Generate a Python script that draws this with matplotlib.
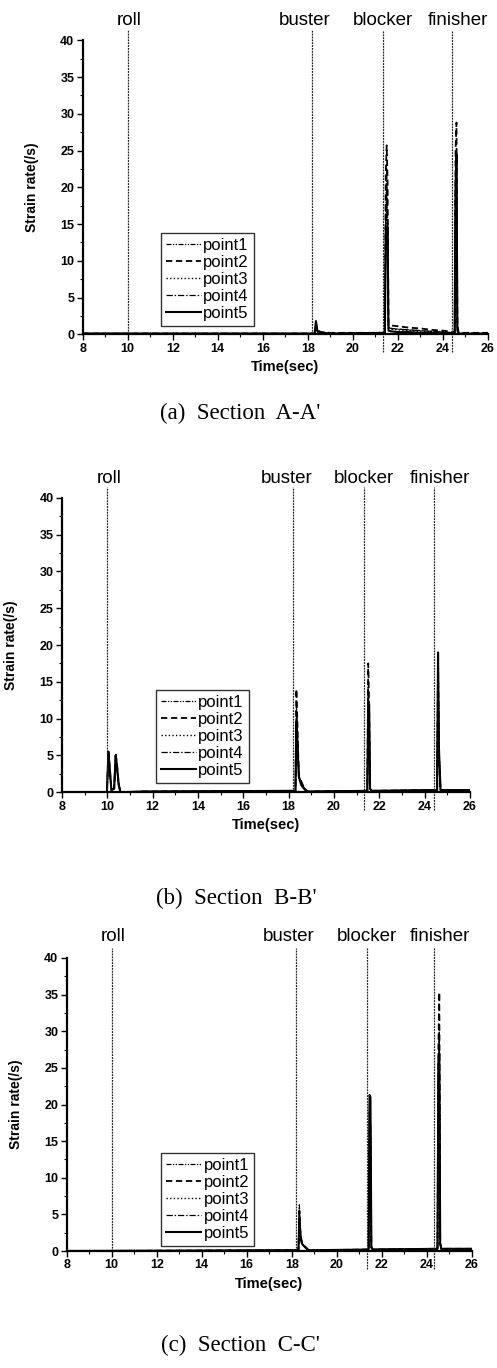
import matplotlib
matplotlib.use("Agg")
import matplotlib.pyplot as plt
from matplotlib.ticker import MultipleLocator

# ---------------- data ----------------
series_names = ["point1", "point2", "point3", "point4", "point5"]
event_names = ["roll", "buster", "blocker", "finisher"]
captions = ["(a)  Section  A-A'", "(b)  Section  B-B'", "(c)  Section  C-C'"]

# Section A-A'
events_a = [10.0, 18.17, 21.32, 24.41]
time_a = [8.0, 18.3, 18.36, 18.42, 18.6, 19.0, 21.42, 21.46, 21.5, 21.54, 21.58, 21.7,
          22.0, 22.5, 23.0, 23.5, 24.0, 24.52, 24.56, 24.6, 24.64, 24.7, 26.0]
a_p1 = [0.1, 0.1, 1.0, 0.4, 0.2, 0.1, 0.2, 16.0, 22.5, 15.0, 1.0, 0.8, 0.7, 0.6, 0.5, 0.4, 0.3, 0.2, 21.0, 24.0, 1.0, 0.1, 0.1]
a_p2 = [0.1, 0.1, 1.3, 0.5, 0.3, 0.2, 0.2, 22.0, 25.7, 21.0, 1.3, 1.2, 1.1, 0.9, 0.8, 0.6, 0.5, 0.3, 25.0, 28.8, 1.2, 0.2, 0.2]
a_p3 = [0.1, 0.1, 0.9, 0.3, 0.2, 0.1, 0.2, 12.0, 18.0, 12.0, 0.8, 0.7, 0.6, 0.5, 0.4, 0.3, 0.3, 0.2, 18.0, 22.0, 0.8, 0.1, 0.1]
a_p4 = [0.1, 0.1, 1.1, 0.4, 0.2, 0.1, 0.2, 14.0, 20.0, 14.0, 0.9, 0.8, 0.7, 0.6, 0.5, 0.4, 0.3, 0.2, 19.0, 23.0, 0.9, 0.1, 0.1]
a_p5 = [0.1, 0.1, 1.8, 0.5, 0.2, 0.1, 0.2, 14.5, 14.0, 14.6, 0.5, 0.4, 0.3, 0.3, 0.2, 0.2, 0.2, 0.1, 20.0, 24.5, 0.5, 0.1, 0.1]

# Section B-B'
events_b = [10.0, 18.19, 21.31, 24.41]
time_b = [8.0, 9.98, 10.05, 10.1, 10.18, 10.3, 10.37, 10.43, 10.5, 10.58, 11.5, 18.3, 18.34, 18.38,
          18.45, 18.55, 18.7, 18.85, 21.47, 21.51, 21.55, 21.59, 21.65, 24.55, 24.59, 24.63, 24.7, 26.0]
b_p1 = [0.0, 0.0, 5.4, 3.0, 0.3, 0.5, 4.8, 3.0, 1.2, 0.0, 0.1, 0.2, 12.0, 9.0, 2.0, 1.5, 0.5, 0.1, 0.2, 14.0, 11.0, 0.5, 0.2, 0.3, 18.5, 5.0, 0.3, 0.3]
b_p2 = [0.0, 0.0, 5.8, 3.5, 0.3, 0.5, 5.4, 3.5, 1.2, 0.0, 0.1, 0.2, 14.0, 10.0, 2.0, 1.5, 0.5, 0.1, 0.2, 17.5, 12.0, 0.5, 0.2, 0.3, 18.0, 5.0, 0.3, 0.3]
b_p3 = [0.0, 0.0, 5.0, 3.0, 0.3, 0.5, 4.5, 3.0, 1.0, 0.0, 0.1, 0.2, 10.0, 8.0, 1.8, 1.2, 0.4, 0.1, 0.2, 13.0, 10.0, 0.5, 0.2, 0.3, 17.0, 5.0, 0.3, 0.3]
b_p4 = [0.0, 0.0, 5.6, 3.2, 0.3, 0.5, 5.0, 3.2, 1.1, 0.0, 0.1, 0.2, 11.0, 8.5, 2.0, 1.4, 0.5, 0.1, 0.2, 15.0, 11.0, 0.5, 0.2, 0.3, 18.5, 6.0, 0.3, 0.3]
b_p5 = [0.0, 0.0, 5.2, 3.5, 0.3, 0.5, 5.0, 3.5, 1.0, 0.0, 0.1, 0.2, 9.0, 7.0, 2.2, 1.0, 0.4, 0.1, 0.2, 12.0, 12.0, 0.5, 0.2, 0.3, 19.0, 6.0, 0.3, 0.3]

# Section C-C'
events_c = [10.0, 18.18, 21.35, 24.33]
time_c = [8.0, 18.3, 18.34, 18.4, 18.48, 18.6, 18.75, 21.42, 21.46, 21.5, 21.54, 21.6,
          24.48, 24.52, 24.56, 24.6, 24.65, 26.0]
c_p1 = [0.0, 0.1, 6.3, 2.0, 0.8, 0.6, 0.1, 0.2, 18.0, 16.0, 0.5, 0.2, 0.3, 24.0, 30.0, 1.0, 0.3, 0.3]
c_p2 = [0.0, 0.1, 5.5, 2.0, 0.9, 0.6, 0.1, 0.2, 19.0, 17.0, 0.5, 0.2, 0.3, 28.0, 35.3, 1.0, 0.3, 0.3]
c_p3 = [0.0, 0.1, 5.0, 1.8, 0.8, 0.5, 0.1, 0.2, 17.0, 15.0, 0.5, 0.2, 0.3, 22.0, 28.0, 1.0, 0.3, 0.3]
c_p4 = [0.0, 0.1, 5.8, 2.0, 0.8, 0.6, 0.1, 0.2, 20.0, 18.0, 0.5, 0.2, 0.3, 23.0, 29.0, 1.0, 0.3, 0.3]
c_p5 = [0.0, 0.1, 4.0, 1.5, 0.9, 0.5, 0.1, 0.2, 21.3, 21.0, 0.5, 0.2, 0.3, 26.0, 27.0, 1.0, 0.3, 0.3]

panels = [
    (time_a, [a_p1, a_p2, a_p3, a_p4, a_p5], events_a),
    (time_b, [b_p1, b_p2, b_p3, b_p4, b_p5], events_b),
    (time_c, [c_p1, c_p2, c_p3, c_p4, c_p5], events_c),
]

# ---------------- styling ----------------
W, H = 497, 1368
fig = plt.figure(figsize=(W / 100, H / 100), dpi=100)

# axes pixel boxes (left, top, right, bottom)
boxes = [(82.7, 40.3, 488.0, 334.3), (62.0, 497.7, 470.0, 792.3), (66.7, 958.0, 471.7, 1251.0)]
legend_boxes = [(160.7, 326.0), (155.7, 783.3), (161.0, 1246.0)]  # lower-left px
caption_pos = [(240, 413), (236, 898), (240, 1345)]
label_y = [42.7, 42.6, 42.9]
label_dx = [0.06, -0.3, 0.0, 0.25]
event_bottom = [0.0, 0.0, -2.4, -2.4]

styles = [
    dict(ls=(0, (4, 1.2, 1, 1.2, 1, 1.2)), lw=0.9),
    dict(ls=(0, (3.5, 2)), lw=1.3),
    dict(ls=(0, (1, 1.6)), lw=1.0),
    dict(ls=(0, (5, 1.5, 1.2, 1.5)), lw=0.9),
    dict(ls='-', lw=1.5),
]

sans = 'Liberation Sans'
serif = 'Liberation Serif'

for i, (t, vals, events) in enumerate(panels):
    l, tp, r, b = boxes[i]
    ax = fig.add_axes([l / W, 1 - b / H, (r - l) / W, (b - tp) / H])
    handles = []
    for name, v, st in zip(series_names, vals, styles):
        h, = ax.plot(t, v, color='black', linestyle=st['ls'], lw=st['lw'], label=name)
        handles.append(h)
    ax.set_xlim(8, 26)
    ax.set_ylim(0, 40)
    for s in ['top', 'right']:
        ax.spines[s].set_visible(False)
    for s in ['left', 'bottom']:
        ax.spines[s].set_linewidth(1.6)
    ax.xaxis.set_major_locator(MultipleLocator(2))
    ax.xaxis.set_minor_locator(MultipleLocator(1))
    ax.yaxis.set_major_locator(MultipleLocator(5))
    ax.yaxis.set_minor_locator(MultipleLocator(2.5))
    ax.tick_params(axis='both', which='major', direction='out', length=4, width=1.0,
                   labelsize=9, pad=2)
    ax.tick_params(axis='both', which='minor', direction='out', length=2.5, width=0.8)
    for lab in ax.get_xticklabels() + ax.get_yticklabels():
        lab.set_fontweight('bold')
        lab.set_family(sans)
    ax.set_xlabel('Time(sec)', fontsize=10.5, fontweight='bold', family=sans, labelpad=4)
    ax.set_ylabel('Strain rate(/s)', fontsize=10, fontweight='bold', family=sans)
    ax.yaxis.set_label_coords(-44 / (r - l), 0.5)

    for k, (name, et) in enumerate(zip(event_names, events)):
        ax.plot([et, et], [event_bottom[k], 41.4], color='#222222', lw=0.9,
                ls=(0, (1.5, 0.8)), clip_on=False)
        ax.text(et + label_dx[k], label_y[i], name, ha='center', va='center',
                fontsize=13.5, family=sans, clip_on=False)

    lx, ly = legend_boxes[i]
    leg = ax.legend(handles=handles, loc='lower left',
                    bbox_to_anchor=(lx / W, 1 - ly / H), bbox_transform=fig.transFigure,
                    prop={'family': sans, 'size': 12}, frameon=True, fancybox=False,
                    edgecolor='black', handlelength=2.1, handletextpad=0.15,
                    labelspacing=0.12, borderpad=0.3, borderaxespad=0)
    leg.get_frame().set_linewidth(1.0)

    cx, cy = caption_pos[i]
    fig.text(cx / W, 1 - cy / H, captions[i], ha='center', va='center',
             fontsize=16.5, family=serif)

fig.savefig('out.png', dpi=100)
